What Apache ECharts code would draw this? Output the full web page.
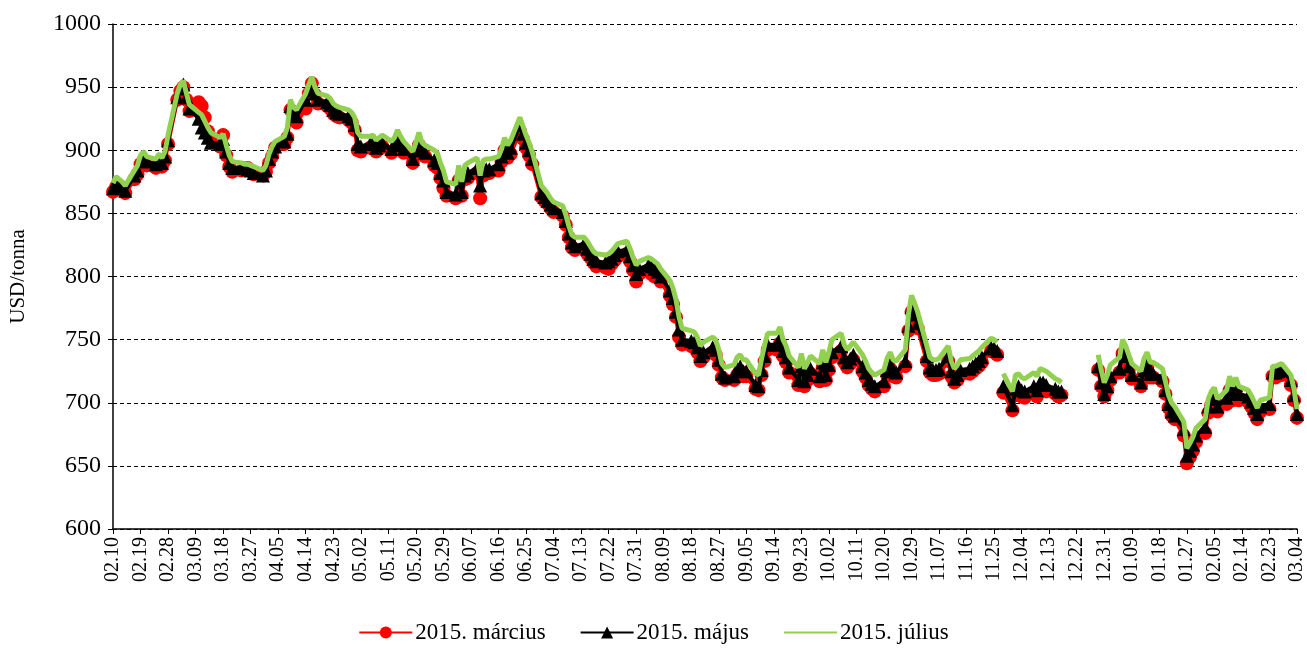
<!DOCTYPE html>
<html>
<head>
<meta charset="utf-8">
<script src="https://cdn.jsdelivr.net/npm/echarts@6/dist/echarts.min.js"></script>
<style>html,body{margin:0;padding:0;background:#fff}#c{width:1307px;height:649px}</style>
</head>
<body>
<div id="c"></div>
<script>
// x-axis tick labels, one every 9 calendar days starting 2014.02.10
const tickLabels = ['02.10','02.19','02.28','03.09','03.18','03.27','04.05','04.14','04.23','05.02','05.11','05.20','05.29','06.07','06.16','06.25','07.04','07.13','07.22','07.31','08.09','08.18','08.27','09.05','09.14','09.23','10.02','10.11','10.20','10.29','11.07','11.16','11.25','12.04','12.13','12.22','12.31','01.09','01.18','01.27','02.05','02.14','02.23','03.04'];
const seriesNames = ['2015. március','2015. május','2015. július'];
// trading-day values (Mon..Fri each week, first Monday = 02.10), null = no quote
const marcius = [
867,871,870,868,866, 877,881,889,892,888, 886,890,887,892,905, 940,947,950,940,931,
938,935,926,915,910, 903,912,896,887,883, 884,885,886,884,881, 880,883,890,895,902,
905,910,932,925,922, 933,945,953,944,937, 935,933,929,927,926, 924,922,916,900,899,
902,903,899,901,903, 898,900,906,902,898, 890,897,904,897,895, 888,886,878,870,864,
862,876,864,877,878, 882,862,880,882,882, 884,891,900,894,897, 915,909,902,896,889,
863,860,858,854,851, 848,841,831,823,821, 822,818,815,811,808, 807,806,810,813,816,
818,812,805,796,802, 805,802,800,801,796, 785,778,768,752,746, 745,744,740,733,736,
740,738,730,720,718, 718,722,725,721,721, 711,710,722,733,742, 742,747,737,732,724,
714,725,713,718,723, 717,728,718,726,736, 741,732,728,731,734, 725,720,714,711,709,
713,722,727,721,720, 729,757,772,766,759, 733,724,722,722,723, 733,721,716,718,722,
723,725,727,729,732, 741,740,738,null,708, 694,706,708,705,704, 708,705,711,711,709,
707,705,706,null,null, null,null,null,null,null, 726,713,705,710,718, 724,739,734,726,719,
713,723,728,720,720, 717,707,696,690,687, 674,652,657,662,669, 676,692,698,701,693,
699,710,702,709,702, 701,697,692,687,693, 695,721,720,722,722, 714,702,688
];
const majus = [
870,875,873,871,868, 880,884,892,895,891, 889,893,890,895,908, 942,949,952,942,933,
925,918,914,910,906, 905,909,899,890,886, 886,886,885,884,882, 880,884,893,899,903,
907,913,935,929,927, 940,948,953,945,940, 938,936,932,930,929, 927,925,920,905,903,
905,906,902,904,906, 901,904,910,905,901, 893,900,908,900,898, 892,890,882,876,867,
865,880,867,880,882, 886,872,884,885,885, 889,895,904,898,902, 920,913,906,900,893,
866,863,860,857,854, 851,844,834,827,824, 826,822,818,814,812, 811,812,814,817,820,
821,816,809,802,806, 809,808,806,804,800, 789,783,772,758,750, 749,748,744,737,740,
744,742,734,723,720, 721,727,729,725,725, 714,713,726,737,746, 746,751,741,736,728,
718,729,717,722,727, 721,732,722,730,740, 745,736,732,735,738, 729,724,718,715,713,
717,726,731,725,724, 733,761,776,770,763, 737,728,726,726,727, 737,725,719,722,726,
727,729,731,733,736, 744,743,741,null,713, 698,711,713,710,709, 713,710,716,716,714,
711,709,709,null,null, null,null,null,null,null, 729,716,707,713,721, 727,742,737,729,722,
716,726,731,723,723, 720,710,699,693,690, 679,658,662,667,674, 681,697,703,706,697,
704,715,707,714,707, 705,701,696,691,697, 699,724,724,725,726, 718,706,691
];
const julius = [
874,879,877,875,872, 884,888,896,899,895, 893,897,894,899,912, 945,952,955,945,936,
930,928,923,918,914, 910,913,904,896,891, 890,889,889,888,887, 884,888,897,903,907,
911,918,940,934,932, 945,952,958,950,945, 943,941,937,935,934, 932,930,926,914,911,
911,912,908,910,912, 907,910,916,911,907, 899,906,914,906,904, 900,898,890,884,875,
873,888,875,888,890, 894,880,892,893,893, 895,901,910,904,908, 926,919,912,906,899,
872,869,866,862,859, 856,849,840,833,831, 831,828,824,820,818, 817,818,820,823,826,
828,822,815,809,812, 815,814,812,810,806, 797,791,782,768,759, 757,756,752,745,748,
752,750,742,731,728, 730,736,738,734,734, 723,722,735,746,755, 755,760,750,745,737,
728,739,727,732,737, 731,742,732,740,750, 755,746,742,745,748, 738,733,727,724,722,
726,735,740,734,733, 742,770,785,779,772, 745,736,734,734,735, 745,733,727,730,734,
735,737,739,741,744, 751,750,748,null,723, 709,722,723,720,719, 724,721,727,726,725,
719,718,716,null,null, null,null,null,null,null, 738,726,716,722,730, 736,750,745,738,731,
725,735,740,732,732, 727,717,706,700,697, 685,664,668,673,680, 687,703,709,712,703,
710,721,713,720,713, 710,706,701,696,702, 704,729,729,730,731, 722,711,695
];

// calendar-day position of the i-th trading day (weekends skipped)
function dayOf(i) { return Math.floor(i / 5) * 7 + (i % 5); }
function pairs(arr) { return arr.map((v, i) => [dayOf(i), v]); }

const FONT = '"Liberation Serif","Times New Roman",serif';
const chart = echarts.init(document.getElementById('c'), null, {renderer: 'canvas'});
chart.setOption({
  animation: false,
  backgroundColor: '#fff',
  grid: {left: 110, right: 3, top: 24, bottom: 120, containLabel: false},
  legend: {
    bottom: 0, left: 'center', itemWidth: 53, itemHeight: 15, itemGap: 34,
    textStyle: {fontFamily: FONT, fontSize: 23, color: '#000', padding: [0, 0, 0, -2]},
    data: [
      {name: seriesNames[0]},
      {name: seriesNames[1]},
      {name: seriesNames[2], itemStyle: {opacity: 0}}
    ]
  },
  xAxis: {
    type: 'value', min: 0, max: 387, interval: 9,
    axisLine: {show: true, lineStyle: {color: '#000', width: 1.5}},
    axisTick: {show: true, length: 5, lineStyle: {color: '#000'}},
    splitLine: {show: false},
    axisLabel: {
      rotate: 90, margin: 8, fontFamily: FONT, fontSize: 20, color: '#000',
      showMaxLabel: true, showMinLabel: true,
      formatter: v => tickLabels[Math.round(v / 9)] || ''
    }
  },
  yAxis: {
    type: 'value', min: 600, max: 1000, interval: 50,
    name: 'USD/tonna', nameLocation: 'middle', nameGap: 84, nameRotate: 90,
    nameTextStyle: {fontFamily: FONT, fontSize: 21, color: '#000'},
    axisLine: {show: true, lineStyle: {color: '#000', width: 1.5}},
    axisTick: {show: true, length: 5, inside: false, lineStyle: {color: '#000'}},
    splitLine: {show: true, lineStyle: {color: '#000', type: [4, 3], width: 1}},
    axisLabel: {fontFamily: FONT, fontSize: 24, color: '#000', margin: 12, formatter: v => String(v)}
  },
  series: [
    {
      name: seriesNames[0], type: 'line', data: pairs(marcius),
      symbol: 'circle', symbolSize: 14, connectNulls: false,
      lineStyle: {color: '#ff0000', width: 4}, itemStyle: {color: '#ff0000'}, z: 2
    },
    {
      name: seriesNames[1], type: 'line', data: pairs(majus),
      symbol: 'triangle', symbolSize: 14, connectNulls: false,
      lineStyle: {color: '#000000', width: 4}, itemStyle: {color: '#000000'}, z: 3
    },
    {
      name: seriesNames[2], type: 'line', data: pairs(julius),
      symbol: 'none', connectNulls: false,
      lineStyle: {color: '#92d050', width: 5}, itemStyle: {color: '#92d050'}, z: 4
    }
  ]
});
</script>
</body>
</html>
